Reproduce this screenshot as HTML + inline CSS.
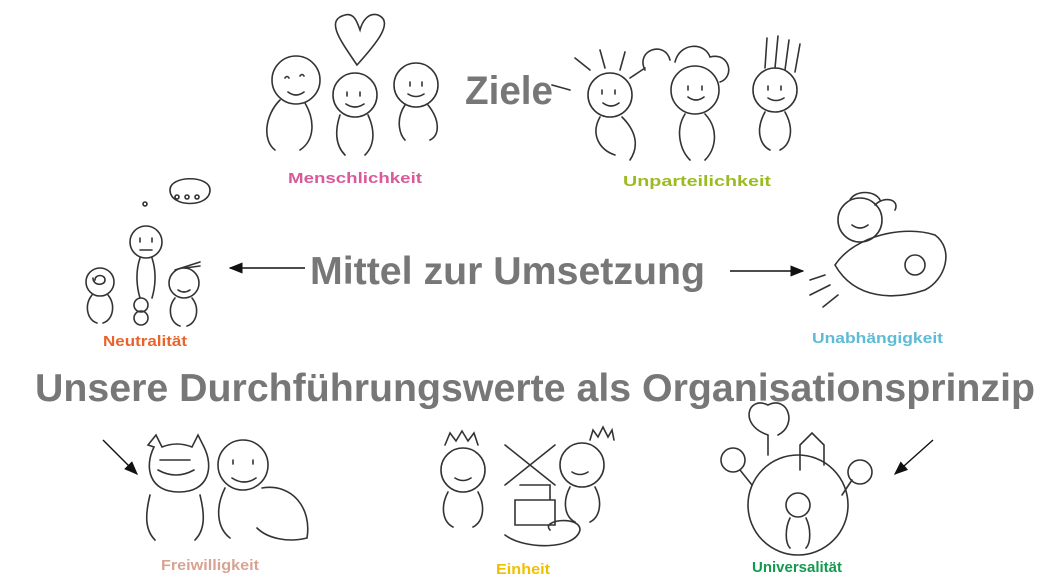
<!DOCTYPE html>
<html><head><meta charset="utf-8"><style>
html,body{margin:0;padding:0;background:#fff;width:1057px;height:588px;overflow:hidden}
svg{display:block}
text{font-family:"Liberation Sans",Arial,sans-serif;font-weight:bold}
</style></head><body>
<svg width="1057" height="588" viewBox="0 0 1057 588">
<defs><marker id="ah" markerWidth="10" markerHeight="8" refX="9" refY="4" orient="auto"><path d="M0,0 L10,4 L0,8 z" fill="#111"/></marker></defs>
<g fill="none" stroke="#333" stroke-width="1.6" stroke-linecap="round">
<!-- Menschlichkeit group -->
<path d="M357,65 C340,40 325,20 345,15 C355,12 358,25 360,30 C362,22 368,12 378,15 C395,22 375,45 357,65z"/>
<circle cx="296" cy="80" r="24"/><circle cx="355" cy="95" r="22"/><circle cx="416" cy="85" r="22"/>
<path d="M285,78 q2,-3 4,0 M300,76 q2,-3 4,0 M288,92 q8,6 16,0 M347,92 v4 M360,92 v4 M346,104 q9,6 18,0 M410,82 v4 M422,82 v4 M408,94 q8,5 16,0"/>
<path d="M280,100 C265,115 262,140 275,150 M305,103 C315,120 315,140 300,150 M340,115 C335,130 335,145 345,155 M368,115 C375,130 375,145 365,155 M405,105 C395,120 400,135 405,140 M428,105 C440,120 440,135 430,140"/>
<!-- Unparteilichkeit group -->
<circle cx="610" cy="95" r="22"/><circle cx="695" cy="90" r="24"/><circle cx="775" cy="90" r="22"/>
<path d="M590,70 l-15,-12 M605,68 l-5,-18 M620,70 l5,-18 M630,78 l15,-10 M570,90 l-18,-5 M645,70 c-10,-20 20,-30 25,-10 M675,62 c5,-20 30,-20 35,-5 c20,-5 25,20 10,25 M765,68 l2,-30 M775,68 l3,-32 M785,70 l4,-30 M795,72 l5,-28"/>
<path d="M603,103 q8,6 16,0 M688,97 q8,6 16,0 M768,98 q8,5 16,0 M602,90 v4 M615,90 v4 M688,86 v4 M702,86 v4 M768,86 v4 M781,86 v4"/>
<path d="M600,117 C590,135 600,150 615,155 M622,117 C635,130 640,145 630,160 M685,114 C675,130 680,150 690,160 M705,114 C720,130 715,150 705,160 M765,112 C755,130 760,145 770,150 M785,112 C795,130 790,145 780,150"/>
<!-- Neutralitaet -->
<path d="M170,190 c0,-15 40,-15 40,0 c0,18 -40,18 -40,0z"/><circle cx="177" cy="197" r="2"/><circle cx="187" cy="197" r="2"/><circle cx="197" cy="197" r="2"/>
<circle cx="145" cy="204" r="2"/>
<circle cx="146" cy="242" r="16"/><path d="M140,238 v4 M152,238 v4 M140,250 h12 M140,258 c-5,15 -3,30 0,40 M152,258 c5,15 3,30 0,40"/>
<circle cx="100" cy="282" r="14"/><path d="M95,280 c0,-6 10,-6 10,0 c0,6 -12,6 -12,-2 M92,295 c-8,10 -5,25 5,28 M108,295 c8,10 5,25 -5,28"/>
<circle cx="184" cy="283" r="15"/><path d="M175,270 l25,-8 M185,268 l15,-2 M178,290 q6,4 12,0 M175,298 c-8,10 -5,25 5,28 M192,298 c8,10 5,25 -5,28"/>
<circle cx="141" cy="305" r="7"/><circle cx="141" cy="318" r="7"/>
<!-- Unabhaengigkeit -->
<circle cx="860" cy="220" r="22"/><path d="M850,200 c5,-10 25,-10 30,0 M875,205 c10,-10 25,-5 20,5 M852,225 q8,6 16,0"/>
<path d="M835,265 c20,-30 70,-40 100,-30 c20,15 10,45 -10,55 c-30,10 -70,10 -90,-25z"/><circle cx="915" cy="265" r="10"/>
<path d="M825,275 l-15,5 M830,285 l-20,10 M838,295 l-15,12"/>
<!-- Freiwilligkeit -->
<path d="M148,445 l8,-10 l6,12 c10,-4 20,-4 30,0 l6,-12 l6,12 c10,20 5,45 -25,45 c-30,0 -35,-25 -25,-45z"/>
<path d="M158,470 q18,10 36,0 M160,460 h30 M150,495 c-5,20 -5,35 5,45 M200,495 c5,20 5,35 -5,45"/>
<circle cx="243" cy="465" r="25"/><path d="M232,478 q12,8 24,0 M233,460 v4 M253,460 v4 M225,488 c-10,20 -8,40 5,50 M262,488 c30,-5 50,20 45,50 c-20,5 -40,0 -50,-10"/>
<!-- Einheit -->
<circle cx="463" cy="470" r="22"/><path d="M445,445 l5,-12 l6,8 l6,-10 l6,10 l6,-8 l4,12 M455,478 q8,5 16,0 M448,492 c-8,15 -5,30 5,35 M478,492 c8,15 5,30 -5,35"/>
<circle cx="582" cy="465" r="22"/><path d="M590,440 l3,-10 l5,7 l5,-10 l5,10 l4,-7 l2,10 M572,472 q8,5 16,0 M570,487 c-8,15 -5,30 5,35 M595,487 c8,15 5,30 -5,35"/>
<path d="M505,445 l50,40 M555,445 l-50,40 M515,500 h40 v25 h-40z M520,485 h30 v15 M505,535 c20,15 70,15 75,-5 c0,-15 -40,-10 -30,0"/>
<!-- Universalitaet -->
<circle cx="798" cy="505" r="50"/><path d="M768,455 v-20 c-30,-10 -20,-40 0,-30 c20,-10 30,20 10,30 M800,470 v-25 l12,-12 l12,12 v20"/>
<circle cx="798" cy="505" r="12"/><path d="M790,518 c-5,10 -5,25 0,30 M806,518 c5,10 5,25 0,30"/>
<circle cx="733" cy="460" r="12"/><path d="M740,470 l12,15"/>
<circle cx="860" cy="472" r="12"/><path d="M852,480 l-10,15"/>
</g>
<!-- arrows -->
<g stroke="#111" stroke-width="1.4">
<line x1="305" y1="268" x2="230" y2="268" marker-end="url(#ah)"/>
<line x1="730" y1="271" x2="803" y2="271" marker-end="url(#ah)"/>
<line x1="103" y1="440" x2="137" y2="474" marker-end="url(#ah)"/>
<line x1="933" y1="440" x2="895" y2="474" marker-end="url(#ah)"/>
</g>
<!-- titles -->
<text x="465" y="104" font-size="40" fill="#777" textLength="88" lengthAdjust="spacingAndGlyphs">Ziele</text>
<text x="310" y="284" font-size="39" fill="#777" textLength="395" lengthAdjust="spacingAndGlyphs">Mittel zur Umsetzung</text>
<text x="35" y="401" font-size="39" fill="#777" textLength="1000" lengthAdjust="spacingAndGlyphs">Unsere Durchführungswerte als Organisationsprinzip</text>
<!-- labels -->
<g font-size="15">
<text x="288" y="183" fill="#d85a9a" textLength="134" lengthAdjust="spacingAndGlyphs">Menschlichkeit</text>
<text x="623" y="186" fill="#9bbb22" textLength="148" lengthAdjust="spacingAndGlyphs">Unparteilichkeit</text>
<text x="103" y="346" fill="#e8642c" textLength="84" lengthAdjust="spacingAndGlyphs">Neutralität</text>
<text x="812" y="343" fill="#5dbcd4" textLength="131" lengthAdjust="spacingAndGlyphs">Unabhängigkeit</text>
<text x="161" y="570" fill="#d7a393" textLength="98" lengthAdjust="spacingAndGlyphs">Freiwilligkeit</text>
<text x="496" y="574" fill="#f0bf00" textLength="54" lengthAdjust="spacingAndGlyphs">Einheit</text>
<text x="752" y="572" fill="#129a4e" textLength="90" lengthAdjust="spacingAndGlyphs">Universalität</text>
</g>
</svg>
</body></html>
